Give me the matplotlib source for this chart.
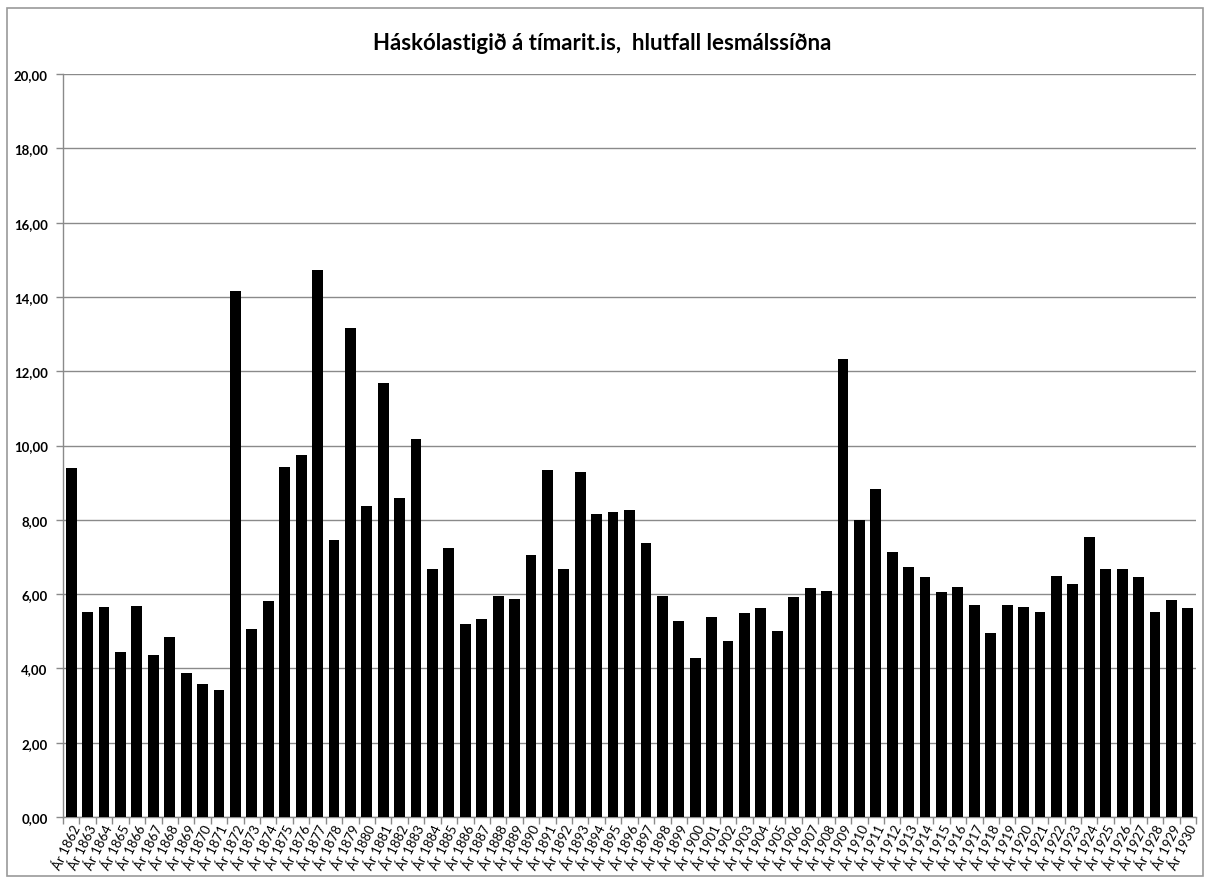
import matplotlib
matplotlib.use("Agg")
import matplotlib.pyplot as plt
from matplotlib.patches import Rectangle
from matplotlib.ticker import FixedLocator, FuncFormatter
import numpy as np

years = list(range(1862, 1931))
labels = [f"Ár {y}" for y in years]
values = [
    9.39, 5.52, 5.66, 4.45, 5.69, 4.37, 4.84, 3.88, 3.58, 3.42,
    14.15, 5.06, 5.81, 9.42, 9.74, 14.72, 7.45, 13.15, 8.38, 11.68,
    8.60, 10.17, 6.67, 7.23, 5.20, 5.34, 5.95, 5.88, 7.06, 9.35,
    6.67, 9.28, 8.16, 8.20, 8.27, 7.38, 5.95, 5.27, 4.28, 5.38,
    4.73, 5.48, 5.63, 5.02, 5.92, 6.16, 6.09, 12.33, 7.99, 8.82,
    7.13, 6.74, 6.45, 6.06, 6.20, 5.70, 4.94, 5.70, 5.66, 5.52,
    6.49, 6.27, 7.53, 6.67, 6.67, 6.45, 5.52, 5.84, 5.63,
]
yticks = [0, 2, 4, 6, 8, 10, 12, 14, 16, 18, 20]
title = "Háskólastigið á tímarit.is,  hlutfall lesmálssíðna"

plt.rcParams['font.family'] = ['Lato', 'DejaVu Sans']

W, H = 1205, 879
fig = plt.figure(figsize=(W / 100, H / 100), dpi=100)
fig.patches.append(Rectangle((7 / W, 2 / H), (W - 9) / W, (H - 11) / H,
                             transform=fig.transFigure, fill=False,
                             edgecolor='#9a9a9a', linewidth=1.2))

ax = fig.add_axes([63 / W, 61 / H, (1196 - 63) / W, (818 - 75) / H])
x = np.arange(len(values))
ax.bar(x, values, width=0.66, color='black', zorder=3)
ax.set_xlim(-0.5, len(values) - 0.5)
ax.set_ylim(0, 20)
ax.set_yticks(yticks)
ax.yaxis.set_major_formatter(FuncFormatter(lambda v, p: f"{v:.2f}".replace('.', ',')))
ax.grid(axis='y', color='#8a8a8a', linewidth=1.0, zorder=0)
for s in ['top', 'right']:
    ax.spines[s].set_visible(False)
for s in ['left', 'bottom']:
    ax.spines[s].set_color('#8a8a8a')
    ax.spines[s].set_linewidth(1.0)

ax.set_xticks(x)
ax.set_xticklabels(labels, rotation=64, ha='right', va='top',
                   rotation_mode='anchor', fontsize=9.5)
ax.xaxis.set_minor_locator(FixedLocator(np.arange(-0.5, len(values), 1)))
ax.tick_params(axis='x', which='major', length=0, pad=4)
ax.tick_params(axis='x', which='minor', length=5, color='#8a8a8a', width=1)
ax.tick_params(axis='y', length=5, color='#8a8a8a', width=1, pad=6)
for t in ax.get_yticklabels():
    t.set_fontweight('bold')
    t.set_fontsize(9.5)

fig.text(0.5, 1 - 43 / H, title, ha='center', va='center', fontsize=16,
         fontweight='bold')

fig.savefig("out.png", dpi=100)
